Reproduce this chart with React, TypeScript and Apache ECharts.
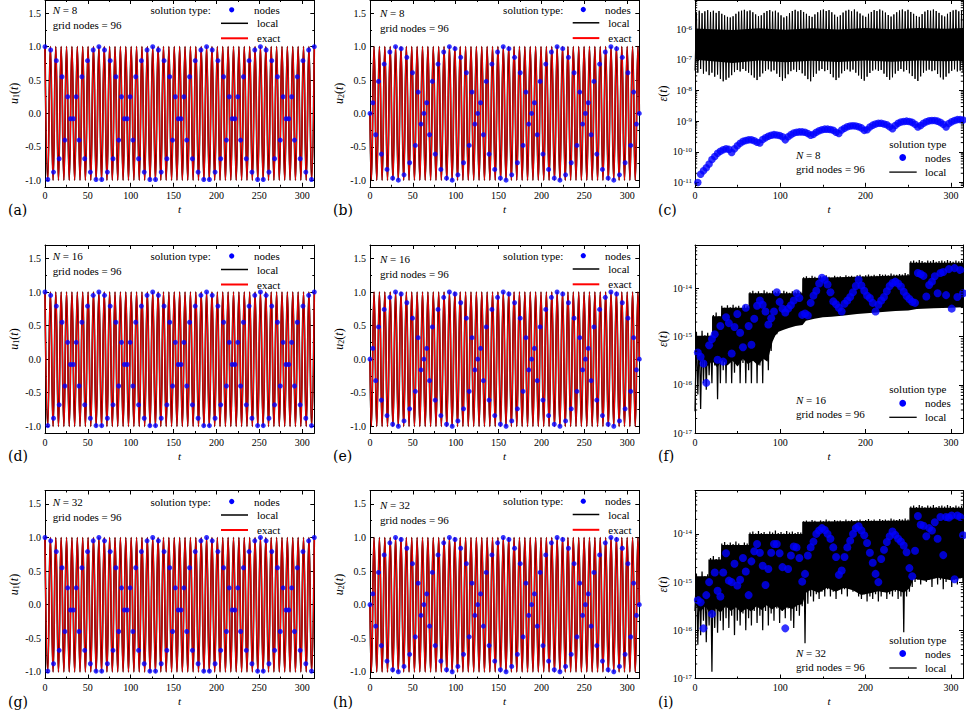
import React, { useEffect, useRef } from "react";
import * as echarts from "echarts";

// ------------------------------------------------------------------ data
const T_END = 100 * Math.PI; // t axis end (≈314.16)
const GRID_NODES = 96;
const NODE_DT = T_END / (GRID_NODES - 1);
const orders = [8, 16, 32];
const panelLetters = [["a", "b", "c"], ["d", "e", "f"], ["g", "h", "i"]];

// u1(t) at the 96 grid nodes
const u1Nodes = [
  1.0, -0.99, 0.95, -0.88, 0.79, -0.68, 0.55, -0.4, 0.25, -0.08, -0.08, 0.25, -0.4, 0.55, -0.68, 0.79, -0.88, 0.95, -0.99,
  1.0, -0.99, 0.95, -0.88, 0.79, -0.68, 0.55, -0.4, 0.25, -0.08, -0.08, 0.25, -0.4, 0.55, -0.68, 0.79, -0.88, 0.95, -0.99,
  1.0, -0.99, 0.95, -0.88, 0.79, -0.68, 0.55, -0.4, 0.25, -0.08, -0.08, 0.25, -0.4, 0.55, -0.68, 0.79, -0.88, 0.95, -0.99,
  1.0, -0.99, 0.95, -0.88, 0.79, -0.68, 0.55, -0.4, 0.25, -0.08, -0.08, 0.25, -0.4, 0.55, -0.68, 0.79, -0.88, 0.95, -0.99,
  1.0, -0.99, 0.95, -0.88, 0.79, -0.68, 0.55, -0.4, 0.25, -0.08, -0.08, 0.25, -0.4, 0.55, -0.68, 0.79, -0.88, 0.95, -0.99,
  1.0,
];
// u2(t) at the 96 grid nodes
const u2Nodes = [
  0.0, 0.16, -0.32, 0.48, -0.61, 0.74, -0.84, 0.92, -0.97, 1.0, -1.0, 0.97, -0.92, 0.84, -0.74, 0.61, -0.48, 0.32, -0.16,
  0.0, 0.16, -0.32, 0.48, -0.61, 0.74, -0.84, 0.92, -0.97, 1.0, -1.0, 0.97, -0.92, 0.84, -0.74, 0.61, -0.48, 0.32, -0.16,
  0.0, 0.16, -0.32, 0.48, -0.61, 0.74, -0.84, 0.92, -0.97, 1.0, -1.0, 0.97, -0.92, 0.84, -0.74, 0.61, -0.48, 0.32, -0.16,
  0.0, 0.16, -0.32, 0.48, -0.61, 0.74, -0.84, 0.92, -0.97, 1.0, -1.0, 0.97, -0.92, 0.84, -0.74, 0.61, -0.48, 0.32, -0.16,
  0.0, 0.16, -0.32, 0.48, -0.61, 0.74, -0.84, 0.92, -0.97, 1.0, -1.0, 0.97, -0.92, 0.84, -0.74, 0.61, -0.48, 0.32, -0.16,
  0.0,
];
// exact u1: turning points at t = k·π (k = 0..100)
const u1ExactExtrema = [
  1, -1, 1, -1, 1, -1, 1, -1, 1, -1, 1, -1, 1, -1, 1, -1, 1, -1, 1, -1,
  1, -1, 1, -1, 1, -1, 1, -1, 1, -1, 1, -1, 1, -1, 1, -1, 1, -1, 1, -1,
  1, -1, 1, -1, 1, -1, 1, -1, 1, -1, 1, -1, 1, -1, 1, -1, 1, -1, 1, -1,
  1, -1, 1, -1, 1, -1, 1, -1, 1, -1, 1, -1, 1, -1, 1, -1, 1, -1, 1, -1,
  1, -1, 1, -1, 1, -1, 1, -1, 1, -1, 1, -1, 1, -1, 1, -1, 1, -1, 1, -1,
  1,
];
// exact u2: value at t = 0, turning points at t = (k-1/2)·π (k = 1..100), value at t = 100π
const u2ExactExtrema = [
  0,
  -1, 1, -1, 1, -1, 1, -1, 1, -1, 1, -1, 1, -1, 1, -1, 1, -1, 1, -1, 1,
  -1, 1, -1, 1, -1, 1, -1, 1, -1, 1, -1, 1, -1, 1, -1, 1, -1, 1, -1, 1,
  -1, 1, -1, 1, -1, 1, -1, 1, -1, 1, -1, 1, -1, 1, -1, 1, -1, 1, -1, 1,
  -1, 1, -1, 1, -1, 1, -1, 1, -1, 1, -1, 1, -1, 1, -1, 1, -1, 1, -1, 1,
  -1, 1, -1, 1, -1, 1, -1, 1, -1, 1, -1, 1, -1, 1, -1, 1, -1, 1, -1, 1,
  0,
];

// ---- error panels, values are log10 ε ----
// N = 8: node errors for nodes 1..95
const errNodesN8 = [
  -11.0, -10.73, -10.62, -10.52, -10.4, -10.25, -10.15, -10.05, -9.98, -9.93, -9.9, -9.92, -10.02,
  -9.9, -9.8, -9.72, -9.66, -9.63, -9.61, -9.61, -9.64, -9.69,
  -9.71, -9.6, -9.54, -9.49, -9.46, -9.44, -9.45, -9.47, -9.51, -9.61,
  -9.51, -9.44, -9.39, -9.36, -9.35, -9.35, -9.36, -9.4, -9.46,
  -9.43, -9.36, -9.31, -9.28, -9.26, -9.26, -9.27, -9.3, -9.36,
  -9.4, -9.29, -9.23, -9.18, -9.16, -9.15, -9.16, -9.18, -9.22, -9.3,
  -9.28, -9.19, -9.13, -9.09, -9.07, -9.07, -9.09, -9.12, -9.18,
  -9.25, -9.14, -9.07, -9.03, -9.01, -9.0, -9.01, -9.04, -9.1, -9.19,
  -9.14, -9.07, -9.02, -8.99, -8.98, -8.98, -9.0, -9.04, -9.1,
  -9.19, -9.08, -9.02, -8.98, -8.95, -8.95, -8.96,
];
// N = 8: local solution, peaks between nodes and troughs at nodes
const localPeaksN8 = [
  -5.45, -5.4, -5.48, -5.42, -5.38, -5.44, -5.4, -5.47, -5.41, -5.5, -5.55, -5.6, -5.62,
  -5.58, -5.5, -5.43, -5.4, -5.37, -5.42, -5.39, -5.45, -5.52, -5.58,
  -5.55, -5.47, -5.41, -5.38, -5.43, -5.4, -5.46, -5.55, -5.62,
  -5.58, -5.48, -5.41, -5.37, -5.42, -5.38, -5.44, -5.5, -5.57, -5.6,
  -5.52, -5.45, -5.39, -5.36, -5.41, -5.38, -5.45, -5.53, -5.6,
  -5.55, -5.46, -5.4, -5.37, -5.42, -5.36, -5.43, -5.49, -5.56, -5.6,
  -5.5, -5.44, -5.38, -5.41, -5.36, -5.4, -5.46, -5.54, -5.59,
  -5.52, -5.45, -5.39, -5.36, -5.42, -5.37, -5.44, -5.5, -5.57, -5.6,
  -5.51, -5.43, -5.38, -5.4, -5.36, -5.41, -5.47, -5.55, -5.59,
  -5.5, -5.44, -5.39, -5.37, -5.42, -5.4,
];
const localTroughsN8 = [
  -7.35, -7.42, -7.3, -7.45, -7.38, -7.5, -7.42, -7.55, -7.48, -7.62, -7.7, -7.65, -7.58,
  -7.5, -7.4, -7.33, -7.38, -7.3, -7.36, -7.42, -7.5, -7.58, -7.66,
  -7.55, -7.44, -7.36, -7.31, -7.38, -7.34, -7.45, -7.56, -7.68,
  -7.6, -7.47, -7.37, -7.32, -7.39, -7.33, -7.44, -7.52, -7.63, -7.7,
  -7.56, -7.45, -7.35, -7.3, -7.37, -7.33, -7.46, -7.57, -7.66,
  -7.58, -7.44, -7.36, -7.31, -7.38, -7.32, -7.42, -7.51, -7.62, -7.68,
  -7.55, -7.43, -7.35, -7.31, -7.36, -7.33, -7.45, -7.56, -7.65,
  -7.57, -7.45, -7.36, -7.3, -7.38, -7.33, -7.44, -7.53, -7.62, -7.69,
  -7.54, -7.42, -7.35, -7.32, -7.37, -7.34, -7.46, -7.57, -7.64,
  -7.55, -7.44, -7.36, -7.31, -7.38, -7.35, -7.42,
];
// dense core of the local-solution band: [t, log10 ε]
const localCoreHiN8 = [[0, -5.98], [44, -6.03], [75, -5.97], [106, -6.02], [137, -5.97], [168, -6.01], [200, -5.96], [231, -6.0], [262, -5.96], [294, -5.99], [314.16, -5.96]];
const localCoreLoN8 = [[0, -7.0], [44, -7.1], [75, -7.02], [106, -7.08], [137, -7.03], [168, -7.07], [200, -7.02], [231, -7.06], [262, -7.02], [294, -7.05], [314.16, -7.02]];

// N = 16
const errNodesN16 = [
  -15.33, -15.42, -15.56, -15.96, -15.18, -15.05, -14.95, -15.48, -14.78, -15.52,
  -14.6, -14.72, -15.35, -14.8, -14.53, -14.92, -15.22, -14.4, -14.78, -15.17,
  -14.63, -14.36, -14.25, -14.34, -14.48, -14.75, -14.62, -14.48, -14.08, -14.28,
  -14.42, -14.5, -14.42, -14.35, -14.25, -14.1, -14.2, -14.55, -14.52, -14.56,
  -14.3, -14.15, -14.05, -13.9, -13.78, -13.82, -13.92, -14.08, -14.27, -14.33,
  -14.4, -14.48, -14.32, -14.25, -14.18, -14.08, -13.95, -13.82, -13.94, -14.05,
  -14.15, -14.2, -14.3, -14.48, -14.34, -14.25, -14.18, -14.06, -13.95, -13.89,
  -13.86, -13.9, -13.96, -14.07, -14.16, -14.22, -14.28, -14.3, -13.68, -13.7,
  -13.74, -14.17, -13.93, -13.86, -13.75, -14.1, -13.68, -13.66, -14.14, -13.6,
  -14.42, -13.58, -14.18, -13.62, -14.1,
];
const localPeaksN16 = [
  -14.9, -15.0, -14.88, -14.97, -14.92, -14.99,
  -14.55, -14.5, -14.58,
  -14.36, -14.4, -14.35, -14.39, -14.34, -14.38, -14.36, -14.41, -14.35, -14.37,
  -14.08, -14.05, -14.09, -14.06, -14.1, -14.04, -14.07, -14.09, -14.05, -14.08, -14.06, -14.1, -14.05, -14.07, -14.09, -14.06, -14.08, -14.05, -14.07,
  -13.77, -13.75, -13.78, -13.74, -13.76, -13.79, -13.75, -13.77, -13.73, -13.76, -13.78, -13.74, -13.76, -13.75, -13.77, -13.73, -13.75, -13.74, -13.76,
  -13.73, -13.72, -13.75, -13.73, -13.71, -13.74, -13.72, -13.74, -13.7, -13.72, -13.71, -13.73, -13.69, -13.71, -13.72, -13.7, -13.71, -13.68, -13.7,
  -13.44, -13.42, -13.45, -13.41, -13.43, -13.46, -13.42, -13.44, -13.41, -13.45, -13.43, -13.42, -13.44, -13.41, -13.43, -13.45, -13.42, -13.44, -13.43,
];
const localTroughsN16 = [
  -16.55, -16.2, -16.5, -15.97, -16.1, -15.8, -15.97, -15.6, -16.3, -15.97, -15.7, -15.97, -15.5, -15.97,
  -15.75, -15.6, -15.97, -15.55, -15.97, -15.7, -15.97, -15.5, -15.97, -15.6, -15.97, -15.45, -15.7, -15.3,
  -15.0, -14.95, -14.88, -14.85, -14.8, -14.78, -14.75, -14.72, -14.74, -14.7, -14.72,
  -14.62, -14.6, -14.58, -14.6, -14.57, -14.55, -14.58, -14.54, -14.56, -14.52, -14.55, -14.53, -14.5, -14.54, -14.5, -14.52, -14.49, -14.5, -14.47,
  -14.5, -14.46, -14.48, -14.45, -14.47, -14.44, -14.46, -14.43, -14.45, -14.42, -14.44, -14.41, -14.43, -14.4, -14.42, -14.4, -14.41, -14.39, -14.4,
  -14.38, -14.35, -14.37, -14.34, -14.36, -14.33, -14.36, -14.34, -14.37, -14.33, -14.35, -14.34, -14.36, -14.33, -14.35, -14.34, -14.36, -14.33, -14.35,
];
const localCoreHiN16 = [[0, -14.98], [20, -14.98], [20, -14.58], [31.4, -14.58], [31.4, -14.4], [62.8, -14.4], [62.8, -14.1], [125.7, -14.1], [125.7, -13.79], [251.3, -13.73], [251.3, -13.47], [314.16, -13.47]];
const localCoreLoN16 = [
  [0, -15.35], [5, -15.55], [10, -15.45], [15, -15.62], [20, -15.5], [26, -15.64], [32, -15.48], [38, -15.6], [44, -15.5], [50, -15.62],
  [56, -15.46], [62, -15.57], [68, -15.5], [74, -15.6], [80, -15.46], [85, -15.52], [88, -15.3], [91, -15.1], [94, -14.98], [98, -14.9],
  [104, -14.86], [110, -14.82], [118, -14.78], [126, -14.76], [130, -14.67], [140, -14.63], [150, -14.6], [160, -14.59], [175, -14.56], [190, -14.53],
  [205, -14.51], [220, -14.49], [235, -14.47], [250, -14.46], [260, -14.43], [280, -14.41], [300, -14.4], [314.16, -14.39],
];

// N = 32
const errNodesN32 = [
  -15.37, -15.42, -15.96, -15.27, -15.0, -15.66, -14.8, -15.18, -15.3, -14.8,
  -14.4, -14.97, -15.0, -14.62, -15.07, -14.95, -14.5, -14.78, -15.27, -14.57,
  -14.36, -14.21, -14.39, -14.66, -15.06, -14.73, -14.39, -14.21, -14.21, -14.4,
  -14.69, -15.96, -14.73, -14.45, -14.26, -14.28, -14.5, -14.99, -14.83, -14.45,
  -14.28, -14.16, -14.0, -13.93, -13.88, -13.92, -14.0, -14.1, -14.28, -14.48,
  -14.85, -14.76, -14.48, -14.28, -14.14, -14.0, -13.88, -13.84, -13.93, -14.03,
  -14.19, -14.39, -14.6, -14.83, -15.0, -14.52, -14.33, -14.17, -14.05, -13.95,
  -14.02, -14.1, -14.16, -14.24, -14.38, -14.71, -14.88, -14.35, -13.63, -13.81,
  -13.83, -14.05, -13.88, -13.93, -13.76, -14.1, -13.65, -14.44, -13.65, -13.66,
  -13.62, -14.94, -13.62, -13.65, -14.03,
];
const localPeaksN32 = [
  -14.82, -14.9, -14.78, -14.88, -14.84,
  -14.5, -14.46, -14.52, -14.48,
  -14.2, -14.17, -14.22, -14.18, -14.21, -14.16, -14.2, -14.23, -14.18, -14.2,
  -13.97, -13.95, -13.99, -13.94, -13.98, -13.96, -14.0, -13.95, -13.97, -13.93, -13.98, -13.96, -13.99, -13.94, -13.97, -13.95, -13.98, -13.96, -13.97,
  -13.74, -13.72, -13.75, -13.71, -13.73, -13.76, -13.72, -13.74, -13.7, -13.73, -13.75, -13.71, -13.73, -13.72, -13.74, -13.7, -13.73, -13.71, -13.74,
  -13.72, -13.7, -13.73, -13.71, -13.69, -13.72, -13.7, -13.73, -13.69, -13.71, -13.7, -13.72, -13.68, -13.7, -13.71, -13.69, -13.7, -13.68, -13.7,
  -13.43, -13.41, -13.44, -13.4, -13.42, -13.45, -13.41, -13.43, -13.4, -13.44, -13.42, -13.41, -13.43, -13.4, -13.42, -13.44, -13.41, -13.43, -13.42,
];
const localTroughsN32 = [
  -15.6, -16.3, -16.1, -15.8, -16.25, -15.9, -16.86, -15.95, -16.05, -15.8, -16.0, -15.75, -15.95, -15.7, -16.1, -15.8,
  -15.9, -15.65, -16.0, -15.75, -15.9, -15.6, -15.85, -15.7, -16.0, -15.6, -15.9, -15.65, -15.8, -15.55, -15.85, -15.6,
  -15.75, -15.55, -15.8, -15.95, -15.6, -15.7, -15.5, -16.27, -15.45, -15.3, -15.4, -15.25, -15.35, -15.2, -15.3, -15.15,
  -15.3, -15.2, -15.35, -15.1, -15.25, -15.15, -15.3, -15.1, -15.2, -15.15, -15.3, -15.35, -15.25, -15.4, -15.3, -15.35,
  -15.25, -15.4, -15.3, -15.2, -15.35, -15.25, -15.3, -15.2, -15.35, -15.3, -16.04, -15.3, -15.2, -15.1, -15.0, -14.95,
  -15.05, -14.9, -15.0, -14.95, -15.1, -14.92, -15.05, -14.95, -15.15, -15.0, -14.93, -15.1, -14.95, -15.05, -14.92, -15.0,
];
const localCoreHiN32 = [[0, -14.88], [15.7, -14.88], [15.7, -14.53], [31.4, -14.53], [31.4, -14.23], [62.8, -14.23], [62.8, -14.0], [125.7, -14.0], [125.7, -13.75], [251.3, -13.72], [251.3, -13.46], [314.16, -13.46]];
const localCoreLoN32 = [
  [0, -15.45], [6, -15.62], [12, -15.5], [18, -15.66], [24, -15.55], [30, -15.63], [36, -15.5], [42, -15.6], [48, -15.52], [54, -15.63],
  [60, -15.55], [66, -15.61], [72, -15.5], [78, -15.58], [84, -15.48], [90, -15.57], [96, -15.5], [102, -15.6], [108, -15.52], [114, -15.56],
  [120, -15.48], [126, -15.46], [130, -15.22], [136, -15.16], [145, -15.22], [155, -15.12], [165, -15.2], [175, -15.12], [185, -15.17], [195, -15.27],
  [205, -15.23], [215, -15.19], [225, -15.22], [235, -15.16], [245, -15.22], [252, -15.12], [256, -14.93], [270, -14.97], [285, -14.91], [300, -14.96],
  [314.16, -14.91],
];

// log10 ranges of the error axes
const errRanges = [[-11.14, -5.05], [-17, -13.1], [-17, -13.1]];

// ------------------------------------------------------------------ layout / style
const SERIF = "'Liberation Serif', 'Times New Roman', serif";
const LETTER_FONT = "'DejaVu Serif', serif";
const COL_LEFT = [45, 370, 695];
const ROW_TOP = [-1.2, 245, 490.5];
const PANEL_W = 269.3;
const PANEL_H = 188;
const BLUE = "#0000ff";
const RED = "#ff0000";

const U_LEG = [
  { nX: 7.7, nY: 11, gY: 26, stR: 165.7, stY: 11, dotX: 186.7, nodesX: 209, l1: 176, l2: 203, lblX: 212, localY: 24.5, exactY: 39.5 },
  { nX: 10, nY: 14.3, gY: 29.3, stR: 193.3, stY: 10.7, dotX: 213.3, nodesX: 235, l1: 202.7, l2: 229.3, lblX: 238.3, localY: 24, exactY: 39.3 },
];
const E_LEG = [
  { nY: -31.5, gY: -17.5, stY: -42.5, dotY: -29.3, lineY: -14.7 },
  { nY: -33.5, gY: -19, stY: -44.5, dotY: -29.7, lineY: -15.7 },
  { nY: -26, gY: -12, stY: -38.5, dotY: -25, lineY: -10.5 },
];

const isMult = (v: number, s: number) => Math.abs(v / s - Math.round(v / s)) < 1e-6;
const lineBase = { show: true, onZero: false, lineStyle: { color: "#000", width: 1 } };
const tickBase = { show: true, inside: true, length: 4, lineStyle: { color: "#000", width: 1 } };
const minorBase = { show: true, splitNumber: 2, length: 2, lineStyle: { color: "#000", width: 1 } };
const labelRich = {
  b: { fontSize: 10, fontFamily: SERIF, color: "#000" },
  s: { fontSize: 7, fontFamily: SERIF, color: "#000", verticalAlign: "top" },
};
const nameRich = {
  i: { fontSize: 12, fontFamily: SERIF, fontStyle: "italic", color: "#000" },
  r: { fontSize: 12, fontFamily: SERIF, color: "#000" },
  s: { fontSize: 8, fontFamily: SERIF, color: "#000", verticalAlign: "bottom" },
};

function makeX(gi: number, step: number, primary: boolean) {
  return {
    type: "value",
    gridIndex: gi,
    position: primary ? "bottom" : "top",
    min: 0,
    max: T_END,
    interval: step,
    axisLine: lineBase,
    axisTick: tickBase,
    minorTick: minorBase,
    splitLine: { show: false },
    minorSplitLine: { show: false },
    axisLabel: primary
      ? { show: true, margin: 4, fontSize: 10, fontFamily: SERIF, color: "#000", formatter: (v: number) => (isMult(v, step) ? String(Math.round(v)) : "") }
      : { show: false },
    name: primary ? "t" : "",
    nameLocation: "middle",
    nameGap: 17,
    nameTextStyle: { fontFamily: SERIF, fontSize: 11, fontStyle: "italic", color: "#000" },
  };
}

function makeUY(gi: number, comp: number, primary: boolean) {
  return {
    type: "value",
    gridIndex: gi,
    position: primary ? "left" : "right",
    min: -1.1,
    max: 1.7,
    splitNumber: 5,
    axisLine: lineBase,
    axisTick: tickBase,
    minorTick: minorBase,
    splitLine: { show: false },
    minorSplitLine: { show: false },
    axisLabel: primary
      ? { show: true, margin: 4, fontSize: 10, fontFamily: SERIF, color: "#000", formatter: (v: number) => (isMult(v, 0.5) ? (Math.round(v * 2) / 2).toFixed(1) : "") }
      : { show: false },
    name: primary ? `{i|u}{s|${comp}}{r|(}{i|t}{r|)}` : "",
    nameLocation: "middle",
    nameGap: 25,
    nameTextStyle: { fontFamily: SERIF, fontSize: 12, color: "#000", rich: nameRich },
  };
}

function makeLogY(gi: number, lo: number, hi: number, primary: boolean) {
  return {
    type: "log",
    logBase: 10,
    gridIndex: gi,
    position: primary ? "left" : "right",
    min: Math.pow(10, lo),
    max: Math.pow(10, hi),
    axisLine: lineBase,
    axisTick: tickBase,
    splitLine: { show: false },
    axisLabel: primary
      ? {
          show: true,
          margin: 3,
          formatter: (v: number) => {
            const e = Math.log10(v);
            return Math.abs(e - Math.round(e)) < 1e-6 ? `{b|10}{s|${Math.round(e)}}` : "";
          },
          rich: labelRich,
        }
      : { show: false },
    name: primary ? "{i|ε}{r|(}{i|t}{r|)}" : "",
    nameLocation: "middle",
    nameGap: 26,
    nameTextStyle: { fontFamily: SERIF, fontSize: 12, color: "#000", rich: nameRich },
  };
}

function txt(x: number, y: number, text: string, align = "left", font = SERIF, size = 11) {
  return {
    type: "text",
    x,
    y,
    z: 100,
    silent: true,
    style: {
      text,
      fontFamily: font,
      fontSize: size,
      fill: "#000",
      align,
      verticalAlign: "middle",
      rich: { i: { fontFamily: font, fontSize: size, fontStyle: "italic", fill: "#000" } },
    },
  };
}
function hline(x1: number, x2: number, y: number, color: string, w: number) {
  return { type: "line", z: 100, silent: true, shape: { x1, y1: y, x2, y2: y }, style: { stroke: color, lineWidth: w } };
}
function dot(cx: number, cy: number, r: number) {
  return { type: "circle", z: 100, silent: true, shape: { cx, cy, r }, style: { fill: BLUE } };
}

function zigzag(troughs: number[], peaks: number[]) {
  const pts: number[][] = [];
  for (let n = 0; n < troughs.length; n++) {
    pts.push([n * NODE_DT, Math.pow(10, troughs[n])]);
    if (n < peaks.length) pts.push([(n + 0.5) * NODE_DT, Math.pow(10, peaks[n])]);
  }
  return pts;
}

const errSets = [
  { nodes: errNodesN8, peaks: localPeaksN8, troughs: localTroughsN8, hi: localCoreHiN8, lo: localCoreLoN8, size: 7.5, lw: 1 },
  { nodes: errNodesN16, peaks: localPeaksN16, troughs: localTroughsN16, hi: localCoreHiN16, lo: localCoreLoN16, size: 8, lw: 1.25 },
  { nodes: errNodesN32, peaks: localPeaksN32, troughs: localTroughsN32, hi: localCoreHiN32, lo: localCoreLoN32, size: 8, lw: 1.25 },
];

function buildOption() {
  const grid: any[] = [];
  const xAxis: any[] = [];
  const yAxis: any[] = [];
  const series: any[] = [];
  const graphic: any[] = [];

  for (let r = 0; r < 3; r++) {
    for (let c = 0; c < 3; c++) {
      const gi = r * 3 + c;
      const left = COL_LEFT[c];
      const top = ROW_TOP[r];
      const bottom = top + PANEL_H;
      grid.push({ left, top, width: PANEL_W, height: PANEL_H, containLabel: false, show: false });
      const isErr = c === 2;
      const step = isErr ? 100 : 50;
      xAxis.push(makeX(gi, step, true), makeX(gi, step, false));
      const ax = { xAxisIndex: 2 * gi, yAxisIndex: 2 * gi };

      if (!isErr) {
        yAxis.push(makeUY(gi, c + 1, true), makeUY(gi, c + 1, false));
        const exact =
          c === 0
            ? u1ExactExtrema.map((v, k) => [k * Math.PI, v])
            : u2ExactExtrema.map((v, k) => [k === 0 ? 0 : k === u2ExactExtrema.length - 1 ? T_END : (k - 0.5) * Math.PI, v]);
        const nodes = (c === 0 ? u1Nodes : u2Nodes).map((v, n) => [n * NODE_DT, v]);
        series.push({ type: "line", ...ax, data: exact, showSymbol: false, symbol: "none", smooth: 0.5, silent: true, z: 2, lineStyle: { color: "#000", width: 1.7 } });
        series.push({ type: "line", ...ax, data: exact, showSymbol: false, symbol: "none", smooth: 0.5, silent: true, z: 3, lineStyle: { color: RED, width: 1.25 } });
        series.push({ type: "scatter", ...ax, data: nodes, symbol: "circle", symbolSize: 5, silent: true, z: 4, itemStyle: { color: BLUE } });

        const L = U_LEG[c];
        graphic.push(txt(left + L.nX, top + L.nY, `{i|N} = ${orders[r]}`));
        graphic.push(txt(left + L.nX, top + L.gY, `grid nodes = ${GRID_NODES}`));
        graphic.push(txt(left + L.stR, top + L.stY, "solution type:", "right"));
        graphic.push(dot(left + L.dotX, top + L.stY, 2.6));
        graphic.push(txt(left + L.nodesX, top + L.stY, "nodes"));
        graphic.push(hline(left + L.l1, left + L.l2, top + L.localY, "#000", 1.5));
        graphic.push(txt(left + L.lblX, top + L.localY, "local"));
        graphic.push(hline(left + L.l1, left + L.l2, top + L.exactY, RED, 2));
        graphic.push(txt(left + L.lblX, top + L.exactY, "exact"));
      } else {
        const [lo, hi] = errRanges[r];
        yAxis.push(makeLogY(gi, lo, hi, true), makeLogY(gi, lo, hi, false));
        const S = errSets[r];
        const midVal = Math.pow(10, (lo + hi) / 2);
        // dense core of the local-solution band
        series.push({
          type: "custom",
          ...ax,
          data: [[0, midVal]],
          clip: true,
          silent: true,
          z: 1,
          renderItem: (_p: any, api: any) => {
            const pts = [
              ...S.hi.map((p) => api.coord([p[0], Math.pow(10, p[1])])),
              ...S.lo.slice().reverse().map((p) => api.coord([p[0], Math.pow(10, p[1])])),
            ];
            return { type: "polygon", shape: { points: pts }, style: { fill: "#000" } };
          },
        });
        // oscillating local-solution error
        series.push({ type: "line", ...ax, data: zigzag(S.troughs, S.peaks), showSymbol: false, symbol: "none", silent: true, z: 2, lineStyle: { color: "#000", width: S.lw } });
        // node errors
        series.push({ type: "scatter", ...ax, data: S.nodes.map((e, i) => [(i + 1) * NODE_DT, Math.pow(10, e)]), symbol: "circle", symbolSize: S.size, silent: true, z: 3, itemStyle: { color: BLUE } });
        // log minor ticks (2..9 per decade) on left and right frames
        series.push({
          type: "custom",
          ...ax,
          data: [[0, midVal]],
          silent: true,
          z: 5,
          renderItem: (_p: any, api: any) => {
            const children: any[] = [];
            for (let e = Math.floor(lo); e <= Math.ceil(hi); e++) {
              for (let k = 2; k <= 9; k++) {
                const v = k * Math.pow(10, e);
                const le = Math.log10(v);
                if (le <= lo || le >= hi) continue;
                const pl = api.coord([0, v]);
                const pr = api.coord([T_END, v]);
                children.push({ type: "line", shape: { x1: pl[0], y1: pl[1], x2: pl[0] + 2.2, y2: pl[1] }, style: { stroke: "#000", lineWidth: 1 } });
                children.push({ type: "line", shape: { x1: pr[0] - 2.2, y1: pr[1], x2: pr[0], y2: pr[1] }, style: { stroke: "#000", lineWidth: 1 } });
              }
            }
            return { type: "group", children };
          },
        });

        const L = E_LEG[r];
        graphic.push(txt(left + 101, bottom + L.nY, `{i|N} = ${orders[r]}`));
        graphic.push(txt(left + 101, bottom + L.gY, `grid nodes = ${GRID_NODES}`));
        graphic.push(txt(left + 194.3, bottom + L.stY, "solution type"));
        graphic.push(dot(left + 207.7, bottom + L.dotY, 3.4));
        graphic.push(txt(left + 230, bottom + L.dotY, "nodes"));
        graphic.push(hline(left + 194.3, left + 221.7, bottom + L.lineY, "#000", 1.3));
        graphic.push(txt(left + 230, bottom + L.lineY, "local"));
      }
      graphic.push(txt(left - 37, bottom + 23, `(${panelLetters[r][c]})`, "left", LETTER_FONT, 14));
    }
  }

  return { animation: false, backgroundColor: "#fff", grid, xAxis, yAxis, series, graphic };
}

export default function App() {
  const ref = useRef<HTMLDivElement | null>(null);
  useEffect(() => {
    if (!ref.current) return;
    const chart = echarts.init(ref.current, null, { renderer: "svg" });
    chart.setOption(buildOption() as any);
    return () => chart.dispose();
  }, []);
  return <div ref={ref} style={{ position: "absolute", left: 0, top: 0, width: 966, height: 717 }} />;
}
